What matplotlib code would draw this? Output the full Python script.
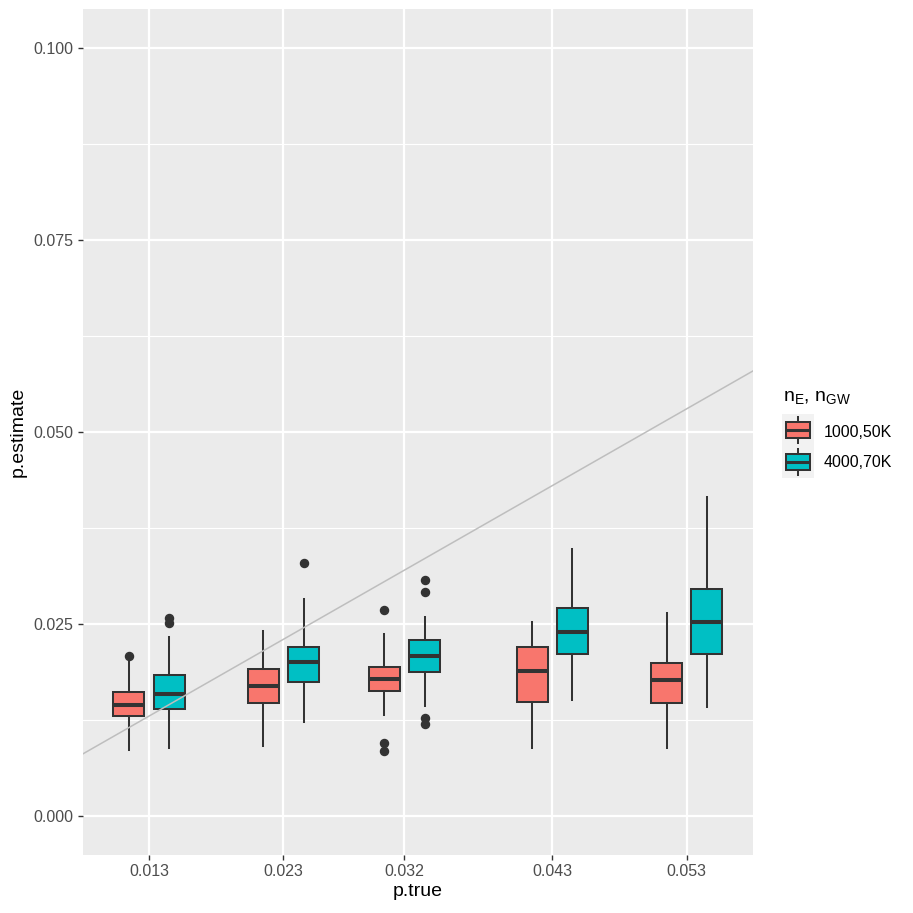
import matplotlib
matplotlib.use("Agg")
import matplotlib.pyplot as plt
from matplotlib.patches import Rectangle
from matplotlib.ticker import FixedLocator

plt.rcParams['font.family'] = ['Liberation Sans', 'DejaVu Sans']
plt.rcParams['mathtext.fontset'] = 'custom'
plt.rcParams['mathtext.rm'] = 'Liberation Sans'
plt.rcParams['mathtext.it'] = 'Liberation Sans:italic'

# ---------------- data ----------------
p_true = [0.013, 0.023, 0.032, 0.043, 0.053]
x_tick_labels = ["0.013", "0.023", "0.032", "0.043", "0.053"]
y_ticks = [0.000, 0.025, 0.050, 0.075, 0.100]
y_tick_labels = ["0.000", "0.025", "0.050", "0.075", "0.100"]
groups = ["1000,50K", "4000,70K"]
colors = ["#F8766D", "#00BFC4"]

# group "1000,50K"
a_whislo = [0.00859, 0.00911, 0.01311, 0.00881, 0.00889]
a_q1 = [0.01302, 0.01467, 0.01632, 0.01489, 0.01476]
a_med = [0.01442, 0.01693, 0.01780, 0.01888, 0.01767]
a_q3 = [0.01619, 0.01914, 0.01944, 0.02196, 0.01997]
a_whishi = [0.02030, 0.02413, 0.02370, 0.02530, 0.02639]
a_fliers = [[0.02083], [], [0.02682, 0.00955, 0.00850], [], []]

# group "4000,70K"
b_whislo = [0.00881, 0.01228, 0.01437, 0.01510, 0.01423]
b_q1 = [0.01397, 0.01741, 0.01871, 0.02110, 0.02105]
b_med = [0.01593, 0.02010, 0.02083, 0.02400, 0.02522]
b_q3 = [0.01836, 0.02205, 0.02292, 0.02713, 0.02960]
b_whishi = [0.02335, 0.02826, 0.02587, 0.03477, 0.04150]
b_fliers = [[0.02578, 0.02513], [0.03290], [0.03073, 0.02917, 0.01272, 0.01194], [], []]

# ---------------- figure ----------------
W = H = 913
fig = plt.figure(figsize=(W / 100, H / 100), dpi=100)
fig.patch.set_facecolor('white')
ax = fig.add_axes([83 / W, 58 / H, 670 / W, 846 / H])
ax.set_facecolor('#EBEBEB')
for s in ax.spines.values():
    s.set_visible(False)

dodge = 0.0015
box_w = 0.00231

series = [
    (a_whislo, a_q1, a_med, a_q3, a_whishi, a_fliers, -dodge, colors[0]),
    (b_whislo, b_q1, b_med, b_q3, b_whishi, b_fliers, +dodge, colors[1]),
]
for wl, q1, md, q3, wh, fl, off, col in series:
    stats = []
    for i in range(len(p_true)):
        stats.append(dict(whislo=wl[i], q1=q1[i], med=md[i], q3=q3[i],
                          whishi=wh[i], fliers=fl[i]))
    ax.bxp(stats, positions=[p + off for p in p_true], widths=box_w,
           patch_artist=True, showcaps=False, manage_ticks=False,
           boxprops=dict(facecolor=col, edgecolor='#333333', linewidth=1.45),
           medianprops=dict(color='#333333', linewidth=2.9, solid_capstyle='butt'),
           whiskerprops=dict(color='#333333', linewidth=1.45),
           flierprops=dict(marker='o', markerfacecolor='#333333',
                           markeredgecolor='#333333', markersize=5.8,
                           linestyle='none'),
           zorder=3)

# identity line
ax.axline((0, 0), slope=1, color='#BEBEBE', linewidth=1.1, zorder=5)

ax.set_xlim(0.00809, 0.05793)
ax.set_ylim(-0.00508, 0.10504)

ax.set_xticks(p_true)
ax.set_xticklabels(x_tick_labels)
ax.set_yticks(y_ticks)
ax.set_yticklabels(y_tick_labels)
ax.yaxis.set_minor_locator(FixedLocator([0.0125, 0.0375, 0.0625, 0.0875]))
ax.tick_params(axis='both', which='major', length=3.6, width=1.0,
               color='#333333', labelcolor='#4D4D4D', labelsize=11.5)
ax.tick_params(axis='y', which='major', pad=3.6)
ax.tick_params(axis='x', which='major', pad=2.9)
ax.tick_params(axis='y', which='minor', length=0)

ax.set_axisbelow(True)
ax.grid(True, which='major', color='white', linewidth=1.6)
ax.grid(True, which='minor', axis='y', color='white', linewidth=0.8)

# axis titles
fig.text(418 / W, 1 - 896 / H, 'p.true', ha='center', va='baseline',
         fontsize=14, color='black')
fig.text(18.5 / W, 1 - 432 / H, 'p.estimate', ha='center', va='center',
         rotation=90, fontsize=14, color='black')

# legend
fig.text(783 / W, 1 - 400.5 / H, r'n$_\mathrm{E}$, n$_\mathrm{GW}$',
         ha='left', va='baseline', fontsize=14, color='black')
lax = fig.add_axes([782 / W, 1 - 478 / H, 32 / W, 64 / H])
lax.set_xlim(0, 1)
lax.set_ylim(2, 0)
lax.axis('off')
lax.add_patch(Rectangle((0, 0), 1, 2, facecolor='#F2F2F2', edgecolor='none'))
label_baselines = [437, 467]
for i, (g, col) in enumerate(zip(groups, colors)):
    lax.add_patch(Rectangle((0.125, i + 0.25), 0.75, 0.5, facecolor=col,
                            edgecolor='#333333', linewidth=1.45))
    lax.plot([0.125, 0.875], [i + 0.5, i + 0.5], color='#333333',
             linewidth=2.2, solid_capstyle='butt')
    lax.plot([0.5, 0.5], [i + 0.1, i + 0.25], color='#333333', linewidth=1.45)
    lax.plot([0.5, 0.5], [i + 0.75, i + 0.9], color='#333333', linewidth=1.45)
    fig.text(824 / W, 1 - label_baselines[i] / H, g, ha='left', va='baseline',
             fontsize=11.5, color='black')

fig.savefig('out.png', dpi=100, facecolor='white')
